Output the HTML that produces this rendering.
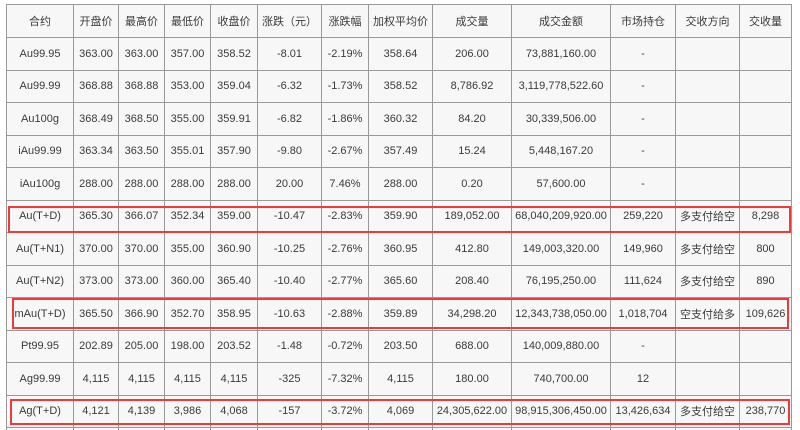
<!DOCTYPE html>
<html><head><meta charset="utf-8"><style>
html,body{margin:0;padding:0;background:#fff;width:800px;height:430px;overflow:hidden;position:relative}
.wrap{position:absolute;left:0;top:0;width:800px;height:430px;overflow:hidden}
table{position:absolute;left:6px;top:4px;border-collapse:collapse;table-layout:fixed;background:#f7f7f7;
font-family:"Liberation Sans","Noto Sans CJK SC",sans-serif;font-size:11px;color:#3a3a3a;border:1px solid #777}
td{border:1px solid #999;text-align:center;padding:0;height:31.5px;white-space:nowrap;overflow:hidden}
tr.h td{height:32px}
.box{position:absolute;border:2px solid #ee3a3a;box-sizing:border-box}
</style></head><body><div class="wrap">
<table>
<colgroup><col style="width:67px"><col style="width:45px"><col style="width:46px"><col style="width:46px"><col style="width:47px"><col style="width:64px"><col style="width:47px"><col style="width:64px"><col style="width:79px"><col style="width:99px"><col style="width:65px"><col style="width:64px"><col style="width:52px"></colgroup>
<tr class="h"><td>合约</td><td>开盘价</td><td>最高价</td><td>最低价</td><td>收盘价</td><td>涨跌（元）</td><td>涨跌幅</td><td>加权平均价</td><td>成交量</td><td>成交金额</td><td>市场持仓</td><td>交收方向</td><td>交收量</td></tr>
<tr><td>Au99.95</td><td>363.00</td><td>363.00</td><td>357.00</td><td>358.52</td><td>-8.01</td><td>-2.19%</td><td>358.64</td><td>206.00</td><td>73,881,160.00</td><td>-</td><td></td><td></td></tr>
<tr><td>Au99.99</td><td>368.88</td><td>368.88</td><td>353.00</td><td>359.04</td><td>-6.32</td><td>-1.73%</td><td>358.52</td><td>8,786.92</td><td>3,119,778,522.60</td><td>-</td><td></td><td></td></tr>
<tr><td>Au100g</td><td>368.49</td><td>368.50</td><td>355.00</td><td>359.91</td><td>-6.82</td><td>-1.86%</td><td>360.32</td><td>84.20</td><td>30,339,506.00</td><td>-</td><td></td><td></td></tr>
<tr><td>iAu99.99</td><td>363.34</td><td>363.50</td><td>355.01</td><td>357.90</td><td>-9.80</td><td>-2.67%</td><td>357.49</td><td>15.24</td><td>5,448,167.20</td><td>-</td><td></td><td></td></tr>
<tr><td>iAu100g</td><td>288.00</td><td>288.00</td><td>288.00</td><td>288.00</td><td>20.00</td><td>7.46%</td><td>288.00</td><td>0.20</td><td>57,600.00</td><td>-</td><td></td><td></td></tr>
<tr><td>Au(T+D)</td><td>365.30</td><td>366.07</td><td>352.34</td><td>359.00</td><td>-10.47</td><td>-2.83%</td><td>359.90</td><td>189,052.00</td><td>68,040,209,920.00</td><td>259,220</td><td>多支付给空</td><td>8,298</td></tr>
<tr><td>Au(T+N1)</td><td>370.00</td><td>370.00</td><td>355.00</td><td>360.90</td><td>-10.25</td><td>-2.76%</td><td>360.95</td><td>412.80</td><td>149,003,320.00</td><td>149,960</td><td>多支付给空</td><td>800</td></tr>
<tr><td>Au(T+N2)</td><td>373.00</td><td>373.00</td><td>360.00</td><td>365.40</td><td>-10.40</td><td>-2.77%</td><td>365.60</td><td>208.40</td><td>76,195,250.00</td><td>111,624</td><td>多支付给空</td><td>890</td></tr>
<tr><td>mAu(T+D)</td><td>365.50</td><td>366.90</td><td>352.70</td><td>358.95</td><td>-10.63</td><td>-2.88%</td><td>359.89</td><td>34,298.20</td><td>12,343,738,050.00</td><td>1,018,704</td><td>空支付给多</td><td>109,626</td></tr>
<tr><td>Pt99.95</td><td>202.89</td><td>205.00</td><td>198.00</td><td>203.52</td><td>-1.48</td><td>-0.72%</td><td>203.50</td><td>688.00</td><td>140,009,880.00</td><td>-</td><td></td><td></td></tr>
<tr><td>Ag99.99</td><td>4,115</td><td>4,115</td><td>4,115</td><td>4,115</td><td>-325</td><td>-7.32%</td><td>4,115</td><td>180.00</td><td>740,700.00</td><td>12</td><td></td><td></td></tr>
<tr><td>Ag(T+D)</td><td>4,121</td><td>4,139</td><td>3,986</td><td>4,068</td><td>-157</td><td>-3.72%</td><td>4,069</td><td>24,305,622.00</td><td>98,915,306,450.00</td><td>13,426,634</td><td>多支付给空</td><td>238,770</td></tr>
<tr><td>&nbsp;</td><td></td><td></td><td></td><td></td><td></td><td></td><td></td><td></td><td></td><td></td><td></td><td></td></tr>
</table>
<div class="box" style="left:8px;top:206px;width:783px;height:27px"></div>
<div class="box" style="left:12px;top:298px;width:777px;height:31px"></div>
<div class="box" style="left:10px;top:399px;width:780px;height:26px"></div>
</div></body></html>
